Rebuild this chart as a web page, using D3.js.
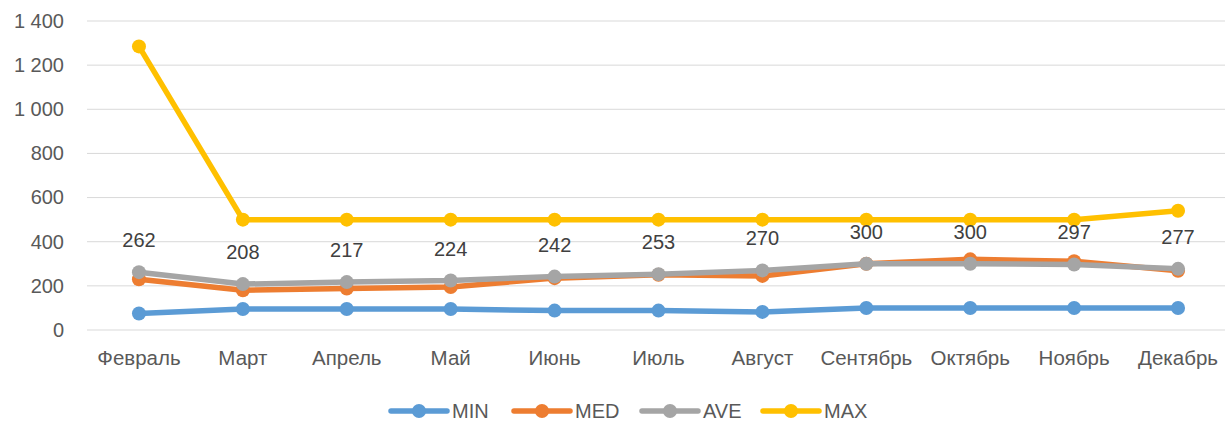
<!DOCTYPE html>
<html><head><meta charset="utf-8">
<script src="https://cdn.jsdelivr.net/npm/d3@7"></script>
<style>body{margin:0;background:#fff}svg{display:block}text{font-family:"Liberation Sans","Open Sans",sans-serif}</style>
</head><body><svg id="c" width="1225" height="423"></svg>
<script>
const categories = ["Февраль","Март","Апрель","Май","Июнь","Июль","Август","Сентябрь","Октябрь","Ноябрь","Декабрь"];
const minVals = [75, 95, 95, 95, 88, 88, 82, 100, 100, 100, 100];
const medVals = [230, 180, 188, 195, 235, 250, 245, 300, 320, 312, 268];
const aveVals = [262, 208, 217, 224, 242, 253, 270, 300, 300, 297, 277];
const maxVals = [1285, 500, 500, 500, 500, 500, 500, 500, 500, 500, 540];
const yTicks = [0, 200, 400, 600, 800, 1000, 1200, 1400];
const seriesNames = ["MIN","MED","AVE","MAX"];

const colors = {MIN:"#5B9BD5", MED:"#ED7D31", AVE:"#A5A5A5", MAX:"#FFC000"};
const series = [
  {name:"MIN", values:minVals},
  {name:"MED", values:medVals},
  {name:"AVE", values:aveVals},
  {name:"MAX", values:maxVals}
];
const svg = d3.select("#c");
const x = d3.scaleBand().domain(categories).range([87, 1230]);
const y = d3.scaleLinear().domain([0, 1400]).range([330, 21]);
const cx = c => x(c) + x.bandwidth()/2;

const fmt = v => d3.format(",")(v).replace(/,/g, " ");

// gridlines
svg.append("g").selectAll("line").data(yTicks).join("line")
  .attr("x1", 87).attr("x2", 1225)
  .attr("y1", d => y(d)).attr("y2", d => y(d))
  .attr("stroke", "#D9D9D9").attr("stroke-width", 1);

// y axis labels
const yAxis = d3.axisLeft(y).tickValues(yTicks).tickFormat(fmt).tickSize(0).tickPadding(0);
const ya = svg.append("g").attr("transform", "translate(64,0)").call(yAxis);
ya.select(".domain").remove();
ya.selectAll("text").attr("font-size", 20).attr("fill", "#595959").attr("font-family", null);

// x axis labels
const xAxis = d3.axisBottom(x).tickSize(0).tickPadding(0);
const xa = svg.append("g").attr("transform", "translate(0,350)").call(xAxis);
xa.select(".domain").remove();
xa.selectAll("text").attr("font-size", 20.5).attr("fill", "#595959").attr("font-family", null).attr("dy", "0.71em");

const line = d3.line().x((d,i) => cx(categories[i])).y(d => y(d));
series.forEach(s => {
  const g = svg.append("g");
  g.append("path").datum(s.values).attr("d", line)
    .attr("fill", "none").attr("stroke", colors[s.name]).attr("stroke-width", 5.5)
    .attr("stroke-linejoin", "round");
  g.selectAll("circle").data(s.values).join("circle")
    .attr("cx", (d,i) => cx(categories[i])).attr("cy", d => y(d)).attr("r", 7)
    .attr("fill", colors[s.name]);
});

// data labels for AVE
svg.append("g").selectAll("text").data(aveVals).join("text")
  .attr("x", (d,i) => cx(categories[i])).attr("y", d => y(d) - 25)
  .attr("text-anchor", "middle").attr("font-size", 20).attr("fill", "#404040")
  .text(d => d);

// legend
const legX = [391, 514, 642, 763];
const lg = svg.append("g");
seriesNames.forEach((n, i) => {
  const g = lg.append("g").attr("transform", `translate(${legX[i]},411)`);
  g.append("line").attr("x1", 0).attr("x2", 56).attr("stroke", colors[n]).attr("stroke-width", 5.5).attr("stroke-linecap","round");
  g.append("circle").attr("cx", 28).attr("r", 7).attr("fill", colors[n]);
  g.append("text").attr("x", 61).attr("dy", "0.36em").attr("font-size", 20).attr("fill", "#595959").text(n);
});
</script></body></html>
